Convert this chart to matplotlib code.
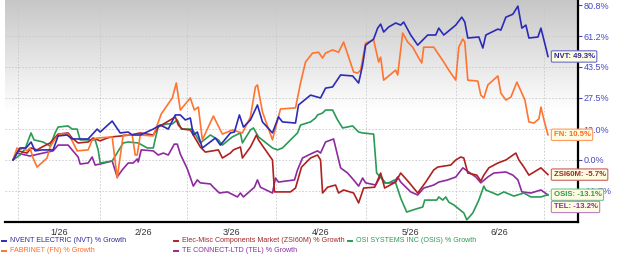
import numpy as np
import matplotlib
matplotlib.use("Agg")
import matplotlib.pyplot as plt
from matplotlib.lines import Line2D
from matplotlib.ticker import NullLocator

plt.rcParams['font.family'] = ['Liberation Sans', 'DejaVu Sans']

# ---------------- data (x = session index, y = % growth) ----------------
nvt_x = [0, 1.75, 3.25, 4.5, 5.5, 7.25, 10, 11.25, 13.5, 14.75, 18.75, 21, 21.75, 24.75, 26.75, 28.75,
         29.75, 31.75, 35, 36.75, 38.75, 40.5, 41.75, 43, 44.25, 45, 46, 47.25, 50.5, 51.75, 54.25,
         55.25, 56.5, 57.5, 59.25, 61, 62.25, 64.75, 66.25, 67.25, 70.5, 71.25, 74.25, 76.75, 78,
         79.75, 81.75, 84.75, 86.25, 87.25, 88, 90, 91, 91.75, 92.5, 93.75, 95.5, 96.75, 97.5, 99.25,
         101, 102.25, 103.5, 105.5, 106.25, 107.5, 110.5, 112, 112.75, 113.5, 116.25, 117.25, 118,
         121, 121.75, 123, 124.75, 126, 127, 128, 128.75, 131, 131.75, 133, 133.5]
nvt_y = [0.0, 4.9, 4.9, 7.4, 3.7, 4.1, 4.1, 10.0, 10.4, 8.7, 8.7, 13.0, 11.7, 16.6, 11.3, 11.7,
         10.4, 10.4, 13.0, 14.8, 13.0, 19.4, 19.4, 17.1, 18.0, 10.4, 11.7, 4.9, 9.1, 6.1, 11.3,
         11.7, 19.4, 13.9, 17.1, 24.1, 16.2, 11.3, 18.5, 16.2, 15.7, 24.1, 28.9, 27.5, 32.4,
         33.0, 39.2, 38.7, 35.0, 44.6, 55.8, 59.4, 66.0, 68.5, 63.6, 66.7, 69.2, 67.9, 69.8, 61.8,
         55.8, 58.8, 61.8, 61.8, 66.0, 61.8, 67.9, 72.9, 69.8, 60.0, 60.6, 54.1, 61.8,
         65.4, 64.8, 72.9, 74.8, 80.1, 66.0, 67.9, 60.0, 60.6, 66.0, 54.1, 49.3]

fn_x = [0, 1, 1.75, 2.5, 3.5, 4.25, 5, 6, 8.5, 9.25, 10.5, 11.75, 13.75, 14.75, 16, 18.75, 19.75,
        21, 24.75, 26, 27.5, 29.75, 30.5, 31, 31.75, 35, 37, 39.75, 40.75, 41.75, 44.25, 45.25,
        46.25, 47.25, 50, 52.25, 54.75, 57.25, 59.25, 60.5, 61, 62.25, 64.75, 66.75, 70.5, 71.75,
        73, 74.75, 76.25, 77.25, 78, 79.75, 81.25, 82.5, 85, 86, 86.75, 88, 90, 91.25, 91.75, 92.5,
        95.5, 96, 97.25, 98.5, 99.75, 101.25, 102, 102.5, 105, 107.5, 108.75, 110.5, 111.25,
        112.25, 112.75, 113.5, 116, 116.75, 117.5, 118.5, 121, 121.75, 123, 124.25, 125.75,
        127.75, 128.75, 130, 131.25, 131.75, 132.5, 133.5]
fn_y = [0.0, 4.9, 4.1, 4.9, 3.7, 4.9, 0.8, -2.8, 0.8, 5.3, 8.7, 10.8, 10.8, 7.9, 3.7, 4.1, 8.3,
        9.1, 9.6, -7.0, 10.4, 10.4, 2.0, 2.0, 10.4, 10.0, 19.9, 27.5, 35.0, 21.7, 27.5, 21.7,
        23.1, 8.3, 18.9, 10.8, 12.6, 11.3, 18.5, 33.0, 34.0, 20.8, 8.3, 22.2, 22.7, 35.0,
        46.2, 51.2, 51.7, 48.4, 51.2, 53.0, 51.7, 57.6, 40.8, 40.2, 41.8, 57.0, 58.8, 46.2, 48.9, 36.5,
        41.8, 39.2, 63.0, 57.6, 54.6, 48.4, 45.7, 54.6, 54.6, 46.2, 41.8, 36.5, 54.6,
        59.4, 57.6, 36.5, 36.0, 28.9, 27.5, 34.0, 38.7, 29.9, 26.5, 27.9, 35.5,
        26.5, 16.2, 15.7, 17.6, 23.1, 17.1, 10.5]

zsi_x = [0, 1.25, 3.5, 4.5, 6, 7.25, 9.25, 11.25, 13.75, 14.75, 16.25, 18.75, 20, 21.75, 23.5,
         24.75, 29.25, 31.75, 35, 36.25, 39.25, 40.5, 41.25, 42.25, 44.25, 46.75, 48, 51.25, 52.25,
         54.25, 55, 56.75, 57.25, 59.25, 60.75, 61.25, 64.75, 65.25, 69.25, 70.5, 72, 74.25, 76,
         76.75, 77.25, 78.5, 80.5, 81.25, 82.5, 85, 86.25, 87.5, 90.25, 91.75, 92.75, 95.5, 96.75,
         98.75, 101, 103, 105, 106, 109.25, 110.5, 111.75, 112.5, 113.5, 115.75, 116.75, 117.5,
         118.75, 121, 123, 125.5, 126.25, 127.5, 128.75, 131.75, 133.5]
zsi_y = [0.0, 3.7, 2.8, 4.9, 4.1, 5.3, 7.0, 10.8, 11.3, 9.1, 7.0, 7.4, 9.1, 7.9, 9.1,
         9.6, 10.4, 11.3, 10.4, 13.9, 17.1, 18.5, 14.8, 13.0, 12.6, 5.3, 3.2, 4.1, 0.8,
         2.8, 4.1, 5.3, 0.8, 5.3, 10.4, 8.3, 0.0, -12.1, -12.1, -10.7, -2.8, 0.8, 2.0,
         0.0, -12.5, -10.4, -9.6, -12.5, -11.4, -12.5, -16.0, -10.7, -10.4, -5.1, -10.7, -8.5, -5.1,
         -8.5, -12.5, -8.5, -3.9, -2.8, -2.0, 0.0, 1.2, 0.8, -5.1, -5.9, -8.1, -5.9,
         -3.1, -1.2, 0.0, 2.8, 0.0, -2.8, -5.9, -3.1, -5.7]

osis_x = [0, 1.75, 3, 4.5, 5.25, 7.5, 9.25, 10.5, 11.25, 13.75, 14.75, 16, 16.75, 20.5, 21.25,
          21.75, 24.75, 27.5, 28.75, 31.25, 33.5, 35, 36.25, 38.5, 39.75, 41, 42, 44.75, 46.75,
          49.25, 51.25, 52.25, 54.75, 56.75, 57.25, 59.25, 60, 61.25, 64.75, 66, 67.25, 69.25, 71,
          71.75, 74.25, 75.5, 76, 77.25, 78, 79.75, 81, 82.25, 84.75, 86.25, 87.25, 90, 90.75, 93,
          93.75, 95.25, 96.75, 98.25, 100.5, 102.25, 102.75, 105.75, 106.25, 107.25, 108, 108.75,
          110, 112.5, 113.25, 114.75, 116.25, 117.5, 118, 121, 122.5, 125, 127.5, 129.25, 131.75,
          133.5]
osis_y = [0.0, 2.0, 4.5, 11.3, 8.3, 7.4, 5.7, 11.3, 13.9, 14.4, 13.0, 13.0, 8.3, 8.3, 4.1,
          -1.2, -0.4, 7.0, 7.4, 7.0, 4.9, 4.9, 14.4, 15.3, 15.3, 17.1, 13.0, 13.0, 7.0,
          10.4, 8.3, 6.1, 9.6, 11.3, 7.0, 12.6, 13.5, 9.6, 4.9, 4.1, 4.9, 8.3, 11.3,
          14.8, 16.2, 18.0, 19.4, 20.3, 21.7, 21.7, 17.1, 13.5, 14.4, 11.7, 11.3, 10.8, -5.1, -8.8,
          -8.8, -7.7, -14.3, -19.1, -18.1, -17.4, -15.0, -15.0, -13.9, -15.0, -13.9, -15.7,
          -16.7, -19.4, -21.7, -19.4, -15.0, -10.0, -11.4, -13.2, -12.1, -13.6, -12.5, -13.9, -13.9,
          -13.1]

tel_x = [0, 1, 4.25, 7.5, 10, 11.25, 13.75, 14.75, 16.25, 16.75, 18.75, 19.75, 20.5, 21.75, 24.75,
         26, 27.25, 28.75, 30, 31, 31.25, 32, 35, 36.25, 37.5, 38.75, 40.25, 41, 41.75, 43.5, 45,
         46, 46.75, 49.25, 50, 51.5, 53.5, 56, 56.75, 57.5, 60.25, 61, 61.75, 64.75, 65.5, 66.25,
         70.25, 71, 72.25, 74.25, 76, 76.75, 78, 80, 81.75, 83.5, 85, 86.25, 87.25, 88, 90.5, 91.75,
         92.75, 95, 96, 96.75, 99.25, 101, 102.5, 105, 106.25, 108.5, 110.5, 112.25, 113, 115.5,
         116.75, 118.5, 120, 123, 124.75, 126, 127, 129.25, 131.75, 133.5]
tel_y = [0.0, 2.8, 1.6, 2.8, 3.7, 6.1, 6.1, 4.1, 1.2, -1.6, -1.2, 1.2, -2.0, -1.6, -0.4,
         -6.6, -3.9, -1.2, -1.2, 0.4, -0.8, 4.1, 3.7, 2.0, 2.8, 2.0, 6.5, 6.5, 2.4, -3.5, -10.0,
         -7.7, -8.8, -9.2, -10.4, -12.5, -12.1, -13.9, -12.5, -13.9, -10.4, -7.7, -10.4, -12.5, -7.0, -8.5,
         -7.7, -3.9, 0.8, 2.4, 3.7, 2.8, 7.4, 8.7, -3.1, -5.1, -7.7, -10.0, -7.0, -8.8, -9.6, -6.2,
         -8.8, -8.8, -6.6, -8.5, -12.1, -13.2, -10.7, -9.6, -8.5, -7.7, -6.6, -3.1, -3.9, -6.6,
         -8.8, -6.6, -5.1, -4.7, -5.9, -7.7, -12.1, -12.5, -11.4, -13.2]

month_edges = [1.25, 21.75, 43.5, 65.75, 88, 110.5, 132.5]
month_labels = ['1/26', '2/26', '3/26', '4/26', '5/26', '6/26']
ytick_vals = [80.8, 61.2, 43.5, 27.5, 13.0, 0.0, -11.7]

series = [
    # name, legend text, x, y, line colour, text colour, box edge, label offset (pt)
    ('NVT', 'NVENT ELECTRIC (NVT) % Growth', nvt_x, nvt_y, '#2b2bb8', '#2a2a9a', '#6a6ad0', 0),
    ('FN', 'FABRINET (FN) % Growth', fn_x, fn_y, '#ff7430', '#ff6a20', '#ff9a60', 0),
    ('ZSI60M', 'Elec-Misc Components Market (ZSI60M) % Growth', zsi_x, zsi_y, '#b02020', '#a02828', '#c86060', 0),
    ('OSIS', 'OSI SYSTEMS INC (OSIS) % Growth', osis_x, osis_y, '#2a9a55', '#2a9a55', '#70c890', 0),
    ('TEL', 'TE CONNECT-LTD (TEL) % Growth', tel_x, tel_y, '#8e2aa0', '#8e2aa0', '#b880c8', -8.6),
]

# ---------------- figure ----------------
W, H = 620, 257
fig = plt.figure(figsize=(W / 100, H / 100), dpi=100)
ax = fig.add_axes([5 / W, 1 - 222 / H, 573 / W, 222 / H])

fwd = lambda g: np.log(np.asarray(g, dtype=float) + 121.0)
inv = lambda v: np.exp(np.asarray(v, dtype=float)) - 121.0
ax.set_yscale('function', functions=(fwd, inv))

# background gradient
t = np.linspace(0, 1, 256)[:, None]
frac = np.clip(t / 0.5, 0, 1)
top = 0.78
img = np.repeat((top + (1 - top) * frac)[:, :, None], 3, axis=2)
ax.imshow(img, extent=[0, 1, 0, 1], transform=ax.transAxes, aspect='auto',
          origin='upper', zorder=0, interpolation='bilinear')

for v in ytick_vals:
    ax.axhline(v, color='#c8c8c8', lw=0.6, ls=(0, (2, 2)), zorder=1)
for e in month_edges:
    ax.axvline(e, color='#c8c8c8', lw=0.6, ls=(0, (2, 2)), zorder=1)

draw_order = ['TEL', 'OSIS', 'ZSI60M', 'FN', 'NVT']
for name in draw_order:
    s = [q for q in series if q[0] == name][0]
    ax.plot(s[2], s[3], color=s[4], lw=1.2, zorder=3, solid_joinstyle='round')

ax.set_xlim(-2, 141)
ax.set_ylim(-22.4, 84.2)

# spines
for sp in ['left', 'top']:
    ax.spines[sp].set_visible(False)
for sp in ['right', 'bottom']:
    ax.spines[sp].set_color('black')
    ax.spines[sp].set_linewidth(1.6)

ax.yaxis.tick_right()
ax.set_yticks(ytick_vals)
ax.set_yticklabels([f'{v:.1f}%' for v in ytick_vals])
ax.yaxis.set_minor_locator(NullLocator())
ax.tick_params(axis='y', colors='#4848c0', labelcolor='#4848c0', length=3, width=0.8,
               labelsize=6.5, pad=1)

mids = [(a + b) / 2 for a, b in zip(month_edges[:-1], month_edges[1:])]
ax.set_xticks(mids)
ax.set_xticklabels(month_labels)
ax.xaxis.set_minor_locator(NullLocator())
ax.tick_params(axis='x', length=0, labelsize=6.5, labelcolor='#333333', pad=4)

# end labels
for name, leg, xs, ys, lc, tc, ec, dy in series:
    ax.annotate(f'{name}: {ys[-1]:.1f}%', xy=(xs[-1], ys[-1]), xytext=(4, dy),
                textcoords='offset points', ha='left', va='center', fontsize=5.6,
                fontweight='bold', color=tc, annotation_clip=False, zorder=6,
                bbox=dict(boxstyle='round,pad=0.28,rounding_size=0.15', fc='#fdfbe0', ec=ec, lw=0.8))

# legend (manual layout)
leg_pos = {'NVT': (2, 241), 'ZSI60M': (174, 241), 'OSIS': (348, 241), 'FN': (2, 251), 'TEL': (174, 251)}
for name, leg, xs, ys, lc, tc, ec, dy in series:
    px, py = leg_pos[name]
    fig.add_artist(Line2D([px / W, (px + 4) / W], [1 - py / H, 1 - py / H], color=lc, lw=1.4))
    fig.text((px + 8) / W, 1 - py / H, leg, color=tc, fontsize=5.1, ha='left', va='center')

fig.savefig('out.png', dpi=100)
